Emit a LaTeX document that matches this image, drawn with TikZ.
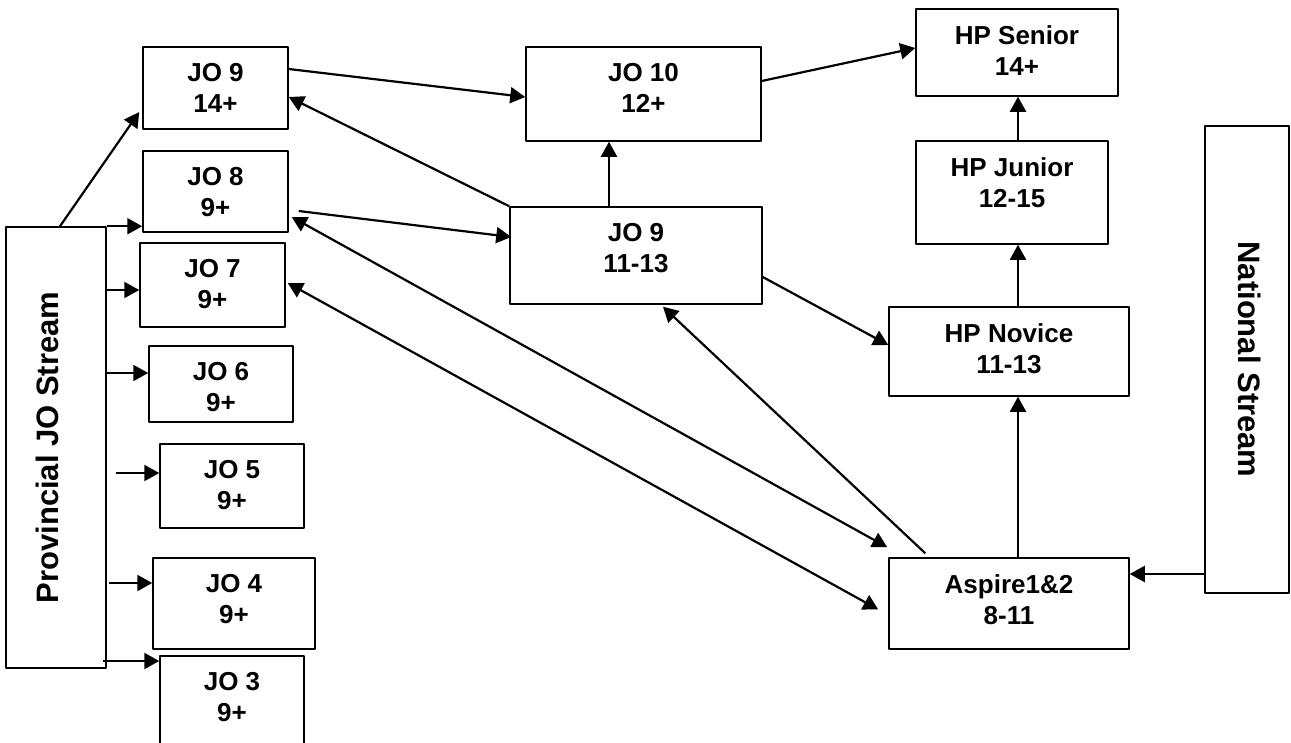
\documentclass[tikz,border=0pt]{standalone}
\usepackage{fontspec}
\setmainfont{Liberation Sans}
\usetikzlibrary{arrows.meta,calc}
\begin{document}
\begin{tikzpicture}[x=1pt,y=-1pt,line join=round,
	box/.style={draw,line width=1.5pt,inner sep=0pt},
	lbl/.style={anchor=north,yshift=-17pt,inner sep=0pt,align=center,font=\bfseries\fontsize{26}{31}\selectfont},
	side/.style={inner sep=0pt,font=\bfseries\fontsize{31}{36}\selectfont},
	arr/.style={-{Triangle[length=15pt,width=16pt]},line width=2.2pt},
	both/.style={{Triangle[length=15pt,width=16pt]}-{Triangle[length=15pt,width=16pt]},line width=2.2pt}]
	\useasboundingbox (0,0) rectangle (1291,742);
	%Provincial JO stream
	\node[box,minimum width=100pt,minimum height=441pt] (prov) at (56,447.5) {};
	\node[side,rotate=90] (provtxt) at (47,447.5) {Provincial JO Stream};
	\node[box,minimum width=145pt,minimum height=82pt,label={[lbl]north:{JO 9\\14+}}] (jonineA) at (215.5,88) {};
	\node[box,minimum width=145pt,minimum height=81pt,label={[lbl]north:{JO 8\\9+}}] (joeight) at (215.5,191.5) {};
	\node[box,minimum width=145pt,minimum height=84pt,label={[lbl]north:{JO 7\\9+}}] (joseven) at (212.5,285) {};
	\node[box,minimum width=144pt,minimum height=76pt,label={[lbl]north:{JO 6\\9+}}] (josix) at (221,384) {};
	\node[box,minimum width=144pt,minimum height=84pt,label={[lbl]north:{JO 5\\9+}}] (jofive) at (232,486) {};
	\node[box,minimum width=162pt,minimum height=91pt,label={[lbl]north:{JO 4\\9+}}] (jofour) at (234,603.5) {};
	\node[box,minimum width=144pt,minimum height=90pt,label={[lbl]north:{JO 3\\9+}}] (jothree) at (232,701) {};
	%JO 10 and JO 9
	\node[box,minimum width=235pt,minimum height=94pt,label={[lbl]north:{JO 10\\12+}}] (joten) at (643.5,94) {};
	\node[box,minimum width=252pt,minimum height=97pt,label={[lbl]north:{JO 9\\11-13}}] (jonineB) at (636,255.5) {};
	%HP stream
	\node[box,minimum width=202pt,minimum height=87pt,label={[lbl]north:{HP Senior\\14+}}] (hpsen) at (1017,52.5) {};
	\node[box,minimum width=192pt,minimum height=103pt,label={[lbl]north:{HP Junior\\12-15}}] (hpjun) at (1012,192.5) {};
	\node[box,minimum width=240pt,minimum height=89pt,label={[lbl]north:{HP Novice\\11-13}}] (hpnov) at (1009,351.5) {};
	\node[box,minimum width=240pt,minimum height=91pt,label={[lbl]north:{Aspire1\&2\\8-11}}] (aspire) at (1009,603.5) {};
	%National stream
	\node[box,minimum width=84pt,minimum height=467pt] (natl) at (1247,359.5) {};
	\node[side,rotate=-90] (natltxt) at (1250,359.5) {National Stream};
	%Arrows from the provincial stream
	\draw[arr] ([xshift=4pt]prov.north) -- ([xshift=-3pt,yshift=-24pt]jonineA.west);
	\draw[arr] (prov.north east) -- (prov.north east -| joeight.west);
	\foreach \n/\y/\s in {joseven/290/0,josix/373/0,jofive/473/9,jofour/583/2,jothree/661/-4}
		\draw[arr] ($(prov.east |- 0,\y)+(\s,0)$) -- (\n.west |- 0,\y);
	%Middle
	\coordinate (upx) at (609,0);
	\draw[arr] ([yshift=19pt]jonineA.east) -- ([yshift=-3pt]joten.west);
	\draw[arr] (jonineB.north west) -- ([yshift=-9pt]jonineA.east);
	\draw[arr] ([xshift=10pt,yshift=-19.5pt]joeight.east) -- ([xshift=2pt,yshift=18.5pt]jonineB.west);
	\draw[arr] (jonineB.north -| upx) -- (joten.south -| upx);
	\draw[arr] ([yshift=13pt]joten.east) -- ([yshift=4.5pt]hpsen.west);
	\draw[arr] ([yshift=-21.5pt]jonineB.east) -- ([yshift=6.5pt]hpnov.west);
	%HP ladder
	\coordinate (hpx) at (1018,0);
	\draw[arr] (hpjun.north -| hpx) -- (hpsen.south -| hpx);
	\draw[arr] (hpnov.north -| hpx) -- (hpjun.south -| hpx);
	\draw[arr] (aspire.north -| hpx) -- (hpnov.south -| hpx);
	\draw[arr] (natl.west |- 0,574) -- (aspire.east |- 0,574);
	%Back from Aspire
	\draw[arr] ([xshift=37pt,yshift=4pt]aspire.north west) -- ([xshift=27pt,yshift=-2pt]jonineB.south);
	\draw[both] ([xshift=3pt,yshift=-25.5pt]joeight.east) -- ([xshift=-1pt,yshift=10pt]aspire.north west);
	\draw[both] ([xshift=2pt,yshift=2pt]joseven.east) -- ([xshift=-10pt,yshift=-6pt]aspire.west);
\end{tikzpicture}
\end{document}
